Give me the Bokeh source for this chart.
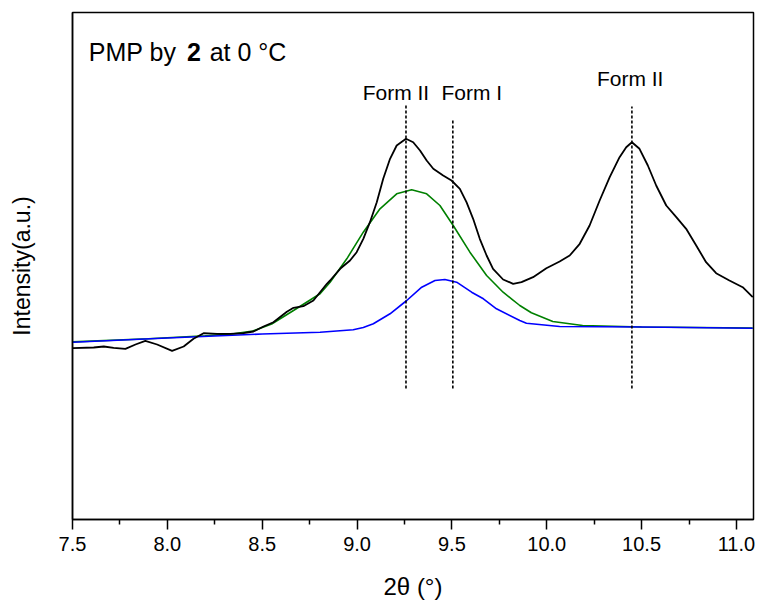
from bokeh.plotting import figure
from bokeh.models import Range1d, FixedTicker, NumeralTickFormatter, ColumnDataSource
from bokeh.embed import file_html
from bokeh.resources import INLINE
from bokeh.core.properties import value

# ---- data ----
meas_x = [7.50, 7.612, 7.665, 7.717, 7.779, 7.832, 7.884, 7.946, 8.025, 8.086,
          8.138, 8.191, 8.262, 8.332, 8.402, 8.454, 8.507, 8.559, 8.630, 8.665,
          8.717, 8.770, 8.805, 8.841, 8.858, 8.911, 8.963, 8.998, 9.033, 9.068,
          9.104, 9.138, 9.174, 9.209, 9.258, 9.296, 9.332, 9.367, 9.402, 9.454,
          9.498, 9.542, 9.577, 9.612, 9.647, 9.683, 9.717, 9.770, 9.823, 9.867,
          9.928, 9.998, 10.068, 10.121, 10.174, 10.226, 10.279, 10.332, 10.384, 10.419,
          10.449, 10.489, 10.533, 10.577, 10.630, 10.683, 10.735, 10.788, 10.840, 10.893,
          10.963, 11.033, 11.086]
meas_y = [171.3, 172.0, 173.0, 171.7, 170.7, 175.0, 178.7, 175.0, 168.7, 173.0,
          180.7, 186.3, 185.7, 185.7, 186.3, 188.0, 193.0, 197.3, 207.7, 211.7,
          213.3, 219.0, 227.3, 235.7, 239.0, 250.7, 259.0, 267.3, 280.7, 297.3,
          317.3, 340.7, 360.7, 374.0, 380.7, 377.3, 369.0, 359.0, 350.7, 344.0,
          339.0, 330.7, 317.3, 300.7, 280.7, 264.0, 250.7, 240.0, 235.7, 237.3,
          242.3, 251.3, 258.0, 264.0, 275.7, 294.0, 319.0, 342.3, 362.3, 372.3,
          377.3, 370.7, 354.0, 334.0, 314.0, 302.3, 290.7, 274.0, 257.3, 246.3,
          239.0, 232.3, 222.3]

form2_x = [7.50, 7.90, 8.20, 8.35, 8.45, 8.55, 8.665, 8.805, 8.858, 8.946,
           9.033, 9.121, 9.209, 9.288, 9.367, 9.437, 9.507, 9.595, 9.683, 9.770,
           9.814, 9.858, 9.919, 10.032, 10.189, 10.50, 11.086]
form2_y = [177.6, 180.8, 183.8, 185.8, 188.5, 195.5, 209.0, 225.7, 237.3, 260.7,
           287.3, 310.7, 325.7, 329.7, 325.7, 314.0, 294.0, 267.3, 244.0, 227.3,
           220.7, 214.0, 206.7, 198.0, 194.0, 192.5, 191.5]

form1_x = [7.50, 8.00, 8.50, 8.805, 8.980, 9.033, 9.086, 9.174, 9.262, 9.341,
           9.411, 9.463, 9.525, 9.604, 9.666, 9.735, 9.858, 9.893, 10.068, 10.50,
           11.086]
form1_y = [177.3, 181.5, 185.5, 187.3, 189.7, 192.0, 195.7, 205.7, 219.0, 232.3,
           239.0, 240.0, 237.3, 227.3, 220.7, 210.7, 199.0, 196.3, 193.0, 192.5,
           191.3]

peak_pos = [9.258, 9.505, 10.449]
peak_top = [414, 399, 413]
peak_bottom = [131, 131, 131]
peak_labels = ["Form II", "Form I", "Form II"]
label_x = [9.205, 9.605, 10.44]
label_y = [427, 427, 441]

x_ticks = [7.5, 8.0, 8.5, 9.0, 9.5, 10.0, 10.5, 11.0]
x_minor = [7.75, 8.25, 8.75, 9.25, 9.75, 10.25, 10.75]

title_parts = ["PMP by", "2", "at 0 \u00b0C"]
title_styles = ["normal", "bold", "normal"]
title_x = [7.586, 8.104, 8.223]
title_y = [467.3, 467.3, 467.3]

FONT = "Liberation Sans"

p = figure(frame_width=681, frame_height=507,
           x_range=Range1d(7.5, 11.09), y_range=Range1d(0, 507),
           output_backend="svg", toolbar_location=None,
           min_border_left=72, min_border_top=12, min_border_right=5, min_border_bottom=82)

p.xgrid.visible = False
p.ygrid.visible = False
p.outline_line_color = "black"
p.outline_line_width = 1.5
p.background_fill_color = "white"
p.border_fill_color = "white"

# x axis
xa = p.xaxis[0]
xa.ticker = FixedTicker(ticks=x_ticks, minor_ticks=x_minor)
xa.formatter = NumeralTickFormatter(format="0.0")
xa.axis_line_width = 1.5
xa.axis_line_color = "black"
xa.major_tick_line_width = 1.5
xa.minor_tick_line_width = 1.5
xa.major_tick_line_color = "black"
xa.minor_tick_line_color = "black"
xa.major_tick_in = 0
xa.major_tick_out = 10
xa.minor_tick_in = 0
xa.minor_tick_out = 5
xa.major_label_standoff = 7
xa.major_label_text_font = FONT
xa.major_label_text_font_size = "20px"
xa.major_label_text_color = "black"
xa.axis_label = "2\u03b8 (\u00b0)"
xa.axis_label_text_font = FONT
xa.axis_label_text_font_size = "24px"
xa.axis_label_text_font_style = "normal"
xa.axis_label_text_color = "black"
xa.axis_label_standoff = 19

# y axis
ya = p.yaxis[0]
ya.ticker = FixedTicker(ticks=[])
ya.major_label_text_font_size = "0px"
ya.major_tick_line_color = None
ya.minor_tick_line_color = None
ya.axis_line_width = 1.5
ya.axis_line_color = "black"
ya.axis_label = "Intensity(a.u.)"
ya.axis_label_text_font = FONT
ya.axis_label_text_font_size = "23px"
ya.axis_label_text_font_style = "normal"
ya.axis_label_text_color = "black"
ya.axis_label_standoff = 38

# curves
p.line(form2_x, form2_y, line_color="#008000", line_width=1.6)
p.line(form1_x, form1_y, line_color="#0000ff", line_width=1.6)
p.line(meas_x, meas_y, line_color="black", line_width=1.8)

# peak markers
p.segment(x0=peak_pos, y0=peak_bottom, x1=peak_pos, y1=peak_top,
          line_color="black", line_width=1.6, line_dash="3 2")

p.text(x=label_x, y=label_y, text=peak_labels, text_font=value(FONT),
       text_font_size="21px", text_align="center", text_baseline="middle",
       text_color="black")

src = ColumnDataSource(dict(x=title_x, y=title_y, t=title_parts, s=title_styles))
p.text(x="x", y="y", text="t", text_font_style="s", source=src, text_font=value(FONT),
       text_font_size="25px", text_align="left", text_baseline="middle",
       text_color="black")

open("out.html", "w").write(file_html(p, INLINE))
